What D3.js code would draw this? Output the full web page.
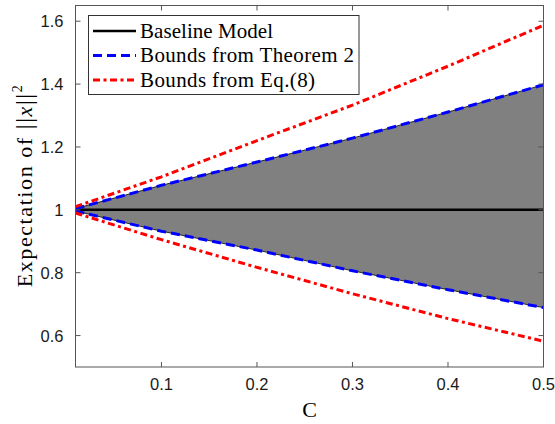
<!DOCTYPE html>
<html>
<head>
<meta charset="utf-8">
<script src="https://cdn.jsdelivr.net/npm/d3@7"></script>
<style>
  body { margin: 0; background: #fff; }
</style>
</head>
<body>
<div id="chart"></div>
<script>
// values
var cVals      = [0.01, 0.1, 0.2, 0.3, 0.4, 0.5];
var baseline   = [1, 1, 1, 1, 1, 1];
var thmUpper   = [1.004, 1.078, 1.152, 1.228, 1.311, 1.398];
var thmLower   = [0.996, 0.932, 0.872, 0.806, 0.746, 0.689];
var eqUpper    = [1.010, 1.105, 1.220, 1.333, 1.457, 1.587];
var eqLower    = [0.990, 0.905, 0.817, 0.733, 0.654, 0.582];
var xTicks     = [0.1, 0.2, 0.3, 0.4, 0.5];
var yTicks     = [0.6, 0.8, 1, 1.2, 1.4, 1.6];
var legendText = ["Baseline Model", "Bounds from Theorem 2", "Bounds from Eq.(8)"];

var W = 555, H = 424;
var plot = {left: 75.5, right: 543.5, top: 5.5, bottom: 367};
var axisCol = "#555";
var serif = "'Liberation Serif', 'DejaVu Serif', serif";
var sans = "'Liberation Sans', Arial, sans-serif";

var svg = d3.select("#chart").append("svg")
    .attr("width", W)
    .attr("height", H);

var Xscale = d3.scaleLinear().domain([0.01, 0.5]).range([plot.left, plot.right]);
var Yscale = d3.scaleLinear().domain([0.5, 1.65]).range([plot.bottom, plot.top]);

var pts = function(arr){ return cVals.map(function(c, i){ return {c: c, v: arr[i]}; }); };

// shaded region between theorem bounds
var band = cVals.map(function(c, i){ return {c: c, lo: thmLower[i], hi: thmUpper[i]}; });
svg.append("path")
    .datum(band)
    .attr("d", d3.area()
        .x(function(d){ return Xscale(d.c); })
        .y0(function(d){ return Yscale(d.lo); })
        .y1(function(d){ return Yscale(d.hi); }))
    .style("fill", "#808080")
    .style("stroke", "#000")
    .style("stroke-width", 0.8);

var line = d3.line()
    .x(function(d){ return Xscale(d.c); })
    .y(function(d){ return Yscale(d.v); });

// baseline
svg.append("path").datum(pts(baseline)).attr("d", line)
    .style("fill", "none").style("stroke", "#000").style("stroke-width", 2.5);

// theorem bounds
[thmUpper, thmLower].forEach(function(arr){
    svg.append("path").datum(pts(arr)).attr("d", line)
        .style("fill", "none").style("stroke", "#0000ff").style("stroke-width", 3)
        .style("stroke-dasharray", "9,5");
});

// eq.(8) bounds
[eqUpper, eqLower].forEach(function(arr){
    svg.append("path").datum(pts(arr)).attr("d", line)
        .style("fill", "none").style("stroke", "#ff0000").style("stroke-width", 3)
        .style("stroke-dasharray", "7,3.5,3,3.5");
});

// axes box
svg.append("rect")
    .attr("x", plot.left).attr("y", plot.top)
    .attr("width", plot.right - plot.left).attr("height", plot.bottom - plot.top)
    .style("fill", "none").style("stroke", axisCol).style("stroke-width", 1);

var tl = 5;
xTicks.forEach(function(t){
    var x = Xscale(t);
    svg.append("line").attr("x1", x).attr("x2", x).attr("y1", plot.bottom).attr("y2", plot.bottom - tl)
        .style("stroke", axisCol);
    svg.append("line").attr("x1", x).attr("x2", x).attr("y1", plot.top).attr("y2", plot.top + tl)
        .style("stroke", axisCol);
    svg.append("text").attr("x", x).attr("y", 389.5)
        .attr("text-anchor", "middle")
        .style("font-family", sans).style("font-size", "16.5px").style("fill", "#1a1a1a")
        .text(d3.format("")(t));
});

yTicks.forEach(function(t){
    var y = Yscale(t);
    svg.append("line").attr("x1", plot.left).attr("x2", plot.left + tl).attr("y1", y).attr("y2", y)
        .style("stroke", axisCol);
    svg.append("line").attr("x1", plot.right).attr("x2", plot.right - tl).attr("y1", y).attr("y2", y)
        .style("stroke", axisCol);
    svg.append("text").attr("x", 63.5).attr("y", y + 6)
        .attr("text-anchor", "end")
        .style("font-family", sans).style("font-size", "16.5px").style("fill", "#1a1a1a")
        .text(d3.format("")(t));
});

// x label
svg.append("text")
    .attr("x", (plot.left + plot.right) / 2).attr("y", 417)
    .attr("text-anchor", "middle")
    .style("font-family", serif).style("font-size", "22px").style("fill", "#000")
    .text("C");

// y label
var ylab = svg.append("text")
    .attr("transform", "translate(32," + ((plot.top + plot.bottom) / 2) + ") rotate(-90)")
    .attr("text-anchor", "middle")
    .attr("textLength", 202)
    .attr("lengthAdjust", "spacing")
    .style("font-family", serif).style("font-size", "22px").style("fill", "#000");
ylab.append("tspan").text("Expectation of ");
ylab.append("tspan").style("font-size", "24px").text("||");
ylab.append("tspan").style("font-style", "italic").text("x");
ylab.append("tspan").style("font-size", "24px").text("||");
ylab.append("tspan").attr("dy", -10).style("font-size", "14px").text("2");

// legend
var lg = svg.append("g");
lg.append("rect")
    .attr("x", 88.5).attr("y", 15.5).attr("width", 270.5).attr("height", 79)
    .style("fill", "#fff").style("stroke", "#333").style("stroke-width", 1);

var legStyles = [
    {col: "#000", dash: null, w: 2.5, len: 133},
    {col: "#0000ff", dash: "9,5", w: 3, len: 214},
    {col: "#ff0000", dash: "7,3.5,3,3.5", w: 3, len: 175}
];
legendText.forEach(function(t, i){
    var y = 31 + i * 24.5;
    lg.append("line").attr("x1", 93).attr("x2", 136).attr("y1", y).attr("y2", y)
        .style("stroke", legStyles[i].col).style("stroke-width", legStyles[i].w)
        .style("stroke-dasharray", legStyles[i].dash);
    lg.append("text").attr("x", 140).attr("y", y + 6.5)
        .attr("textLength", legStyles[i].len)
        .attr("lengthAdjust", "spacing")
        .style("font-family", serif).style("font-size", "21px").style("fill", "#000")
        .text(t);
});
</script>
</body>
</html>
